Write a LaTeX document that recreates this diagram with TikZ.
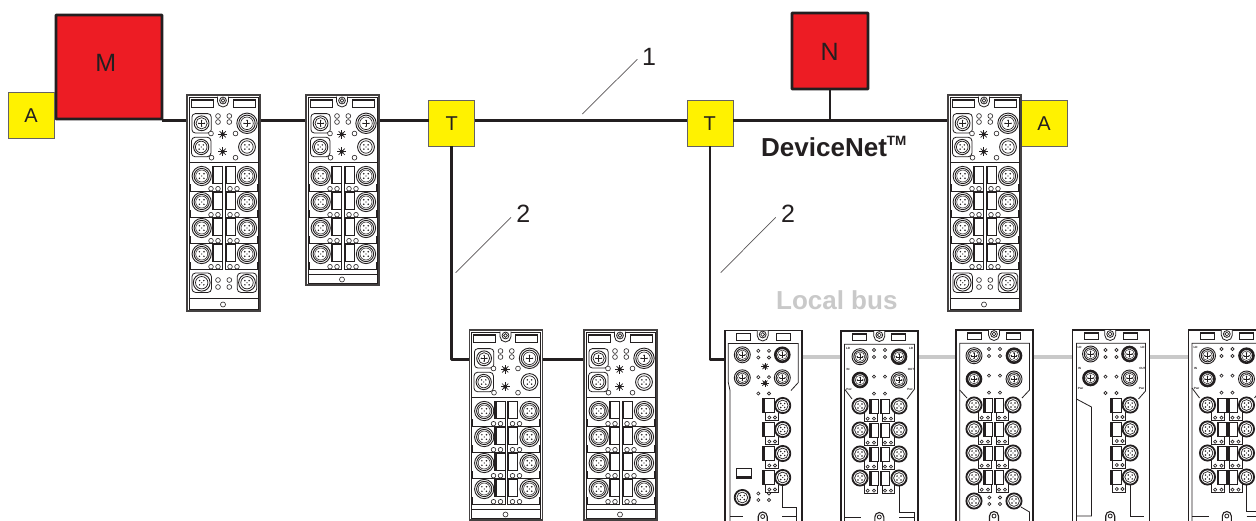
\documentclass[tikz,border=0pt]{standalone}
\usepackage{fontspec}
\setmainfont{Liberation Sans}
\definecolor{ink}{HTML}{231F20}
\definecolor{boxred}{HTML}{ED1C24}
\definecolor{boxyel}{HTML}{FFF200}
\definecolor{lbus}{HTML}{C9C9C9}
\tikzset{
  bus/.style={draw=ink,line width=2.6pt,line join=round},
  localbus/.style={draw=lbus,line width=3.2pt},
  leader/.style={draw=ink!75,line width=.7pt},
  redbox/.style={draw=ink,fill=boxred,line width=2.8pt,rounded corners=.6pt,inner sep=0pt,outer sep=0pt},
  yelbox/.style={draw=ink!70,fill=boxyel,line width=.8pt,minimum width=46pt,minimum height=46pt,inner sep=0pt,outer sep=0pt},
  modbox/.style={inner sep=0pt,outer sep=0pt,anchor=north west},
  lab/.style={text=ink,anchor=base,inner sep=0pt,font=\fontsize{25}{25}\selectfont},
  labs/.style={lab,font=\fontsize{20}{20}\selectfont},
  mline/.style={draw=ink,line width=.8pt},
  mthin/.style={draw=ink,line width=.6pt},
}
% --- connector jacks, in local coordinates
\newcommand\pinsq[3]{\foreach \a in {45,135,225,315}{\fill[ink] (#1,#2) ++(\a:#3pt) circle[radius=.8pt];}\fill[ink] (#1,#2) circle[radius=.65pt];}
\newcommand\pinsh[3]{\foreach \a in {0,90,180,270}{\fill[ink] (#1,#2) ++(\a:#3pt) circle[radius=.8pt];}\draw[ink,line width=.4pt] (#1,#2) ++(-#3pt,0pt) -- ++(2*#3pt,0pt) (#1,#2) ++(0pt,-#3pt) -- ++(0pt,2*#3pt);}
% row jack of a compact module
\newcommand\jack[2]{\filldraw[fill=white,draw=ink,line width=.9pt] (#1,#2) circle[radius=9.6pt];\draw[ink,line width=.9pt] (#1,#2) circle[radius=7.6pt];\draw[ink,line width=.5pt] (#1,#2) circle[radius=6pt];\pinsq{#1}{#2}{3.2}}
% head jacks of a compact module
\newcommand\bigjack[2]{\filldraw[fill=white,draw=ink,line width=.9pt] (#1,#2) circle[radius=10.2pt];\draw[ink,line width=.9pt] (#1,#2) circle[radius=8.2pt];\draw[ink,line width=.6pt] (#1,#2) circle[radius=6.3pt];\pinsh{#1}{#2}{3}}
\newcommand\headjack[2]{\filldraw[fill=white,draw=ink,line width=.9pt] (#1,#2) circle[radius=7.4pt];\draw[ink,line width=.7pt] (#1,#2) circle[radius=5.6pt];\pinsh{#1}{#2}{2.8}}
\newcommand\lowjack[2]{\filldraw[fill=white,draw=ink,line width=.9pt] (#1,#2) circle[radius=7.6pt];\draw[ink,line width=.7pt] (#1,#2) circle[radius=5.8pt];\pinsq{#1}{#2}{3}}
\newcommand\lowjackr[2]{\filldraw[fill=white,draw=ink,line width=.9pt] (#1,#2) circle[radius=8.4pt];\draw[ink,line width=.7pt] (#1,#2) circle[radius=6.2pt];\pinsq{#1}{#2}{3}}
% DIN module jacks
\newcommand\busjack[2]{\filldraw[fill=white,draw=ink,line width=.9pt] (#1,#2) circle[radius=8pt];\draw[ink,line width=1pt] (#1,#2) circle[radius=6.2pt];\draw[ink,line width=.5pt] (#1,#2) circle[radius=4.8pt];\pinsh{#1}{#2}{2.7}}
\newcommand\darkjack[2]{\filldraw[fill=white,draw=ink,line width=2.6pt] (#1,#2) circle[radius=7pt];\draw[ink,line width=.5pt] (#1,#2) circle[radius=4.8pt];\pinsh{#1}{#2}{2.7}}
\newcommand\rowjack[2]{\filldraw[fill=white,draw=ink,line width=1.8pt] (#1,#2) circle[radius=7.6pt];\draw[ink,line width=.7pt] (#1,#2) circle[radius=5.4pt];\pinsq{#1}{#2}{2.8}}
\newcommand\shield[2]{\draw[mline,rounded corners=3.5pt,fill=white] (#1-9.7,#2-9.7) rectangle (#1+9.7,#2+9.7);}
\newcommand\led[3][2.4pt]{\filldraw[fill=white,mthin] (#2,{#3}) circle[radius=#1];}
\newcommand\rotary[3][4.4pt]{\foreach \a in {0,45,...,315}{\draw[ink,line width=.7pt] (#2,#3) -- ++(\a:#1);}\fill[ink] (#2,#3) circle[radius=2pt];}
\newcommand\keyhole[2]{\filldraw[fill=white,mline] (#1-5.5,#2-3) -- (#1-5.5,#2+2) arc[start angle=180,end angle=360,radius=5.5pt] -- (#1+5.5,#2-3);\draw[mline] (#1,#2+1) circle[radius=3.4pt];\draw[mthin] (#1,#2+1) circle[radius=1.9pt];}
\newcommand\keyup[2]{\draw[mline,line width=1.1pt] (#1-4.5,#2+6) -- (#1-4.5,#2) arc[start angle=180,end angle=0,radius=4.5pt] -- (#1+4.5,#2+6);\draw[mline] (#1,#2) circle[radius=2pt];}
% --- compact module; args: x, y, height, bottom rule y, extra-row flag
\newcommand\comprow[1]{%
  \draw[mthin] (3,#1+8) -- (3,#1+15) -- (35.3,#1+15) -- (35.3,#1+7);
  \draw[mthin] (70,#1+8) -- (70,#1+15) -- (38,#1+15) -- (38,#1+7);
  \draw[mthin,fill=white] (25,#1-10) rectangle (35.3,#1+7);
  \fill[ink] (25,#1-10) rectangle (27,#1+7);
  \draw[mthin,fill=white] (38,#1-10) rectangle (48,#1+7);
  \fill[ink] (38,#1-10) rectangle (39.6,#1+7);
  \led[2.3pt]{24}{#1+12.7}\led[2.3pt]{31}{#1+12.7}\led[2.3pt]{43}{#1+12.7}\led[2.3pt]{50}{#1+12.7}
  \jack{14.7}{#1}\jack{60}{#1}}
\newcommand\compact[5]{\begin{scope}[shift={(#1,#2)}]
  \draw[draw=ink!85,line width=1.1pt,fill=white] (0,0) rectangle (73,#3);
  \draw[mthin] (1.9,1.9) rectangle (71.1,#3-1.9);
  \draw[mline] (4,4.5) rectangle (26,12.5); \fill[ink] (4,4.5) rectangle (26,5.8);
  \draw[mline] (46,4.5) rectangle (68,12.5); \fill[ink] (46,4.5) rectangle (68,5.8);
  \keyhole{36}{4.5}
  \shield{14.6}{28.3}\headjack{14.6}{28.3}\bigjack{60}{28.3}
  \shield{14.2}{52}\lowjack{14.2}{52}\lowjackr{60}{52}
  \led{31}{21}\led{31}{27}\led{42.3}{21}\led{42.3}{27}
  \led{24}{38.5}\led{48.5}{38.5}\led{24.5}{62.7}\led{48.5}{62.7}
  \rotary{35.7}{39.3}\rotary{35.7}{56.7}
  \draw[mline] (1.9,67.7) -- (71.1,67.7);
  \foreach \r in {81,107,133,159}{\comprow{\r}}
  \draw[mline] (1.9,#4) -- (71.1,#4);
  \led[2.5pt]{36}{#4/2+#3/2}
  \ifnum#5=1
    \shield{14.7}{187.7}\lowjackr{14.7}{187.7}\shield{60}{187.7}\lowjackr{60}{187.7}
    \led{31}{185}\led{31}{192}\led{42.3}{185}\led{42.3}{192}
  \fi
\end{scope}}
% --- DIN modules, clipped by the page bottom
\newcommand\dinhead[3]{% width, right-label left, keyhole x
  \draw[draw=ink,line width=1.05pt,fill=white] (0,0) rectangle (#1,205);
  \draw[mline] (11.7,2.6) rectangle (25.7,9.4); \fill[ink] (11.7,2.6) rectangle (25.7,3.6);
  \draw[mline] (#2,2.6) rectangle (#2+14,9.4); \fill[ink] (#2,2.6) rectangle (#2+14,3.6);
  \keyhole{#3}{3}}
\newcommand\dinledsa{\led[1.6pt]{33}{19}\led[1.6pt]{33}{26}\led[1.6pt]{44}{19}\led[1.6pt]{44}{26}\led[1.6pt]{33}{45.7}\led[1.6pt]{44}{45.7}\led[1.6pt]{33}{62.7}\led[1.6pt]{44}{62.7}}
\newcommand\dintinyl[1]{\begin{scope}[font=\fontsize{3}{3}\bfseries\selectfont,text=ink,inner sep=0pt]
  \node (#1a) at (7,17) {LD};\node (#1c) at (7,38) {IN};\node (#1e) at (8,58) {Pwr};\end{scope}}
\newcommand\dintinyr[1]{\begin{scope}[font=\fontsize{3}{3}\bfseries\selectfont,text=ink,inner sep=0pt]
  \node (#1b) at (70,17) {LD};\node (#1d) at (70,38) {OUT};\node (#1f) at (69,58) {Pwr};\end{scope}}
\newcommand\dualrow[1]{%
  \draw[mthin] (23,#1+7) -- (23,#1+15.5) -- (36,#1+15.5) -- (36,#1+7);
  \draw[mthin] (41,#1+7) -- (41,#1+15.5) -- (53.5,#1+15.5) -- (53.5,#1+7);
  \draw[mthin,fill=white] (28.3,#1-6.5) rectangle (37.5,#1+7.5);\fill[ink] (28.3,#1-6.5) rectangle (30.8,#1+7.5);
  \draw[mthin,fill=white] (39,#1-6.5) rectangle (48.3,#1+7.5);\fill[ink] (39,#1-6.5) rectangle (41,#1+7.5);
  \led[1.6pt]{26.7}{#1+12.7}\led[1.6pt]{33}{#1+12.7}\led[1.6pt]{44}{#1+12.7}\led[1.6pt]{50}{#1+12.7}
  \rowjack{19}{#1}\rowjack{58}{#1}}
\newcommand\singlerow[1]{%
  \draw[mthin] (40,#1+7) -- (40,#1+15) -- (53,#1+15) -- (53,#1+7);
  \draw[mthin,fill=white] (37.7,#1-7) rectangle (49,#1+7);\fill[ink] (37.7,#1-7) rectangle (40.2,#1+7);
  \led[1.6pt]{44.3}{#1+12}\led[1.6pt]{50}{#1+12}
  \rowjack{57.7}{#1}}
\newcommand\dinC[2]{\begin{scope}[shift={(#1,#2)}]
  \dinhead{77}{51}{37.7}
  \draw[mline] (5,205) -- (5,60) -- (3.3,52) -- (3.3,13) -- (73.3,13) -- (73.3,52) -- (66,60);
  \busjack{17.3}{24.3}\darkjack{57.3}{24.3}
  \busjack{17.3}{47.3}\busjack{57.3}{47.3}
  \led[1.6pt]{33.3}{20.3}\led[1.6pt]{33.3}{27}\led[1.6pt]{44}{20.3}\led[1.6pt]{44}{27}
  \led[1.6pt]{33.3}{46.7}\led[1.6pt]{44}{46.7}\led[1.6pt]{33.3}{63}\led[1.6pt]{44}{63}
  \rotary[3.6pt]{40}{36}\rotary[3.6pt]{40}{52.7}
  \foreach \r in {75,99,123,147}{\singlerow{\r}}
  \draw[mline] (57.7,154) -- (57.7,177) -- (71.5,177) -- (71.5,205);
  \draw[mline,fill=white] (11.7,138) rectangle (26,148);\fill[ink] (11.7,145.5) rectangle (26,148);
  \rowjack{17.3}{167}
  \led[1.6pt]{33.3}{163}\led[1.6pt]{33.3}{169.5}\led[1.6pt]{44}{163}\led[1.6pt]{44}{169.5}
  \keyup{37.7}{186}
  \draw[mline] (5,186) -- (18,186) (57,186) -- (71.5,186);
\end{scope}}
\newcommand\dinD[3]{\begin{scope}[shift={(#1,#2)}]
  \dinhead{77}{50.7}{38.3}
  \draw[mline] (3.5,205) -- (3.5,13.3) -- (73.5,13.3) -- (73.5,58) -- (66,68);
  \draw[mline] (3.5,58) -- (11,68);
  #3
  \busjack{19}{25.7}\darkjack{58}{25.7}
  \darkjack{19}{49}\busjack{58}{49}
  \dinledsa
  \foreach \r in {75,99,123,147}{\dualrow{\r}}
  \draw[mline] (58,155) -- (58,181) -- (73.5,181) -- (73.5,205);
  \keyup{38.3}{186}
  \draw[mline] (3.5,186) -- (20,186) (58,186) -- (73.5,186);
\end{scope}}
\newcommand\dinDx[2]{\begin{scope}[shift={(#1,#2)}]
  \dinhead{77}{50.7}{38}
  \draw[mline] (3.7,205) -- (3.7,13.3) -- (73.5,13.3) -- (73.5,60) -- (66,68);
  \draw[mline] (3.7,60) -- (11,68);
  \busjack{18}{25.7}\darkjack{58}{25.7}
  \darkjack{18}{49}\busjack{58}{49}
  \dinledsa
  \begin{scope}[shift={(-1,0)}]\foreach \r in {75,99,123,147}{\dualrow{\r}}\end{scope}
  \rowjack{18}{171}\rowjack{58}{171}
  \led[1.6pt]{33.3}{167.5}\led[1.6pt]{33.3}{174}\led[1.6pt]{44}{167.5}\led[1.6pt]{44}{174}
  \draw[mline] (65,177) -- (73.5,182) -- (73.5,205);
  \keyup{38}{186}
\end{scope}}
\newcommand\dinE[3]{\begin{scope}[shift={(#1,#2)}]
  \dinhead{77}{51}{37.7}
  \draw[mline] (4,205) -- (4,13.3) -- (73,13.3) -- (73,61) -- (66,69);
  \draw[mline] (4,69) -- (19,77) -- (19,186) -- (4,186);
  \dintinyl{#3}\dintinyr{#3}
  \busjack{18}{24}\darkjack{57}{24}
  \darkjack{18}{48}\busjack{57}{48}
  \led[1.6pt]{33}{20}\led[1.6pt]{33}{27}\led[1.6pt]{44}{20}\led[1.6pt]{44}{27}
  \led[1.6pt]{33}{46.7}\led[1.6pt]{44}{46.7}\led[1.6pt]{33}{63}\led[1.6pt]{44}{63}
  \foreach \r in {75,99,123,147}{\singlerow{\r}}
  \draw[mline] (57.7,154) -- (57.7,186) -- (71.5,186);
  \keyup{37.7}{186}
\end{scope}}
\begin{document}
\begin{tikzpicture}[x=1pt,y=-1pt]
\useasboundingbox (0,0) rectangle (1256,520);
\fill[white] (0,0) rectangle (1256,520);
\begin{scope}
\clip (0,0) rectangle (1256,520);
% named placeholders for the modules
\node[modbox,minimum width=73pt,minimum height=216pt] (m1) at (187,95) {};
\node[modbox,minimum width=73pt,minimum height=190pt] (m2) at (306,95) {};
\node[modbox,minimum width=73pt,minimum height=216pt] (m3) at (948,95) {};
\node[modbox,minimum width=73pt,minimum height=190pt] (m4) at (469.5,330) {};
\node[modbox,minimum width=73pt,minimum height=190pt] (m5) at (584,330) {};
\node[modbox,minimum width=77pt,minimum height=190pt] (d1) at (725,330.5) {};
\node[modbox,minimum width=77pt,minimum height=190pt] (d2) at (841,331) {};
\node[modbox,minimum width=77pt,minimum height=190pt] (d3) at (956,330) {};
\node[modbox,minimum width=77pt,minimum height=190pt] (d4) at (1072.5,330) {};
\node[modbox,minimum width=77pt,minimum height=190pt] (d5) at (1188.5,330) {};
% boxes
\node[redbox,minimum width=106pt,minimum height=104pt] (M) at (109,67) {};
\node[redbox,minimum width=76pt,minimum height=76pt] (N) at (829.9,51) {};
\node[yelbox] (A1) at (31.2,115.3) {};
\node[yelbox] (T1) at (451.7,123.3) {};
\node[yelbox] (T2) at (709.9,123.3) {};
\node[yelbox] (A2) at (1044,123) {};
\coordinate (busY) at (0,120.3);
\coordinate (branchY) at (0,359.3);
\coordinate (localY) at (0,357);
% connectors
\draw[bus] (M.south east |- busY) -- (m1.west |- busY);
\draw[bus] (m1.east |- busY) -- (m2.west |- busY);
\draw[bus] (m2.east |- busY) -- (T1.west |- busY);
\draw[bus] (T1.east |- busY) -- (T2.west |- busY);
\draw[bus] (T2.east |- busY) -- (m3.west |- busY);
\draw[bus] (N.south) -- (N.south |- busY);
\draw[bus] (T1.south) |- (m4.west |- branchY);
\draw[bus] (m4.east |- branchY) -- (m5.west |- branchY);
\draw[bus] (T2.south) |- (d1.west |- branchY);
\draw[localbus] (d1.east |- localY) -- (d2.west |- localY);
\draw[localbus] (d2.east |- localY) -- (d3.west |- localY);
\draw[localbus] (d3.east |- localY) -- (d4.west |- localY);
\draw[localbus] (d4.east |- localY) -- (d5.west |- localY);
% modules
\compact{187}{95}{216}{203}{1}
\compact{306}{95}{190}{179}{0}
\compact{948}{95}{216}{203}{1}
\compact{469.5}{330}{190}{179}{0}
\compact{584}{330}{190}{179}{0}
\dinC{725}{330.5}
\dinD{841}{331}{\dintinyl{dta}\dintinyr{dta}}
\dinDx{956}{330}
\dinE{1072.5}{330}{dtb}
\dinD{1188.5}{330}{\dintinyl{dtc}}
% leaders and labels
\coordinate (l1a) at (582.3,114); \coordinate (l1b) at (637.3,59.3);
\coordinate (l2a) at (455.7,272.7); \coordinate (l2b) at (511,217.3);
\coordinate (l3a) at (720.7,272.7); \coordinate (l3b) at (775.7,217.3);
\draw[leader] (l1a) -- (l1b);
\draw[leader] (l2a) -- (l2b);
\draw[leader] (l3a) -- (l3b);
\node[lab] (tM) at (105.7,71.7) {M};
\node[labs] (tA1) at (31,122.7) {A};
\node[labs] (tT1) at (451.7,130.7) {T};
\node[labs] (tT2) at (709.7,130.7) {T};
\node[lab] (tN) at (829.7,60) {N};
\node[labs] (tA2) at (1044,130.7) {A};
\node[lab] (t1) at (649,65) {1};
\node[lab] (t2) at (523.3,222.7) {2};
\node[lab] (t3) at (788,222.7) {2};
\node[lab,text=lbus,font=\fontsize{26}{26}\bfseries\selectfont] (tLB) at (836.8,309.3) {Local bus};
\node[lab,anchor=base west,font=\fontsize{26}{26}\bfseries\selectfont] (tDN) at (761,156.7) {DeviceNet\raisebox{11.7pt}{\fontsize{13.5}{13.5}\bfseries\selectfont TM}};
\end{scope}
\end{tikzpicture}
\end{document}
